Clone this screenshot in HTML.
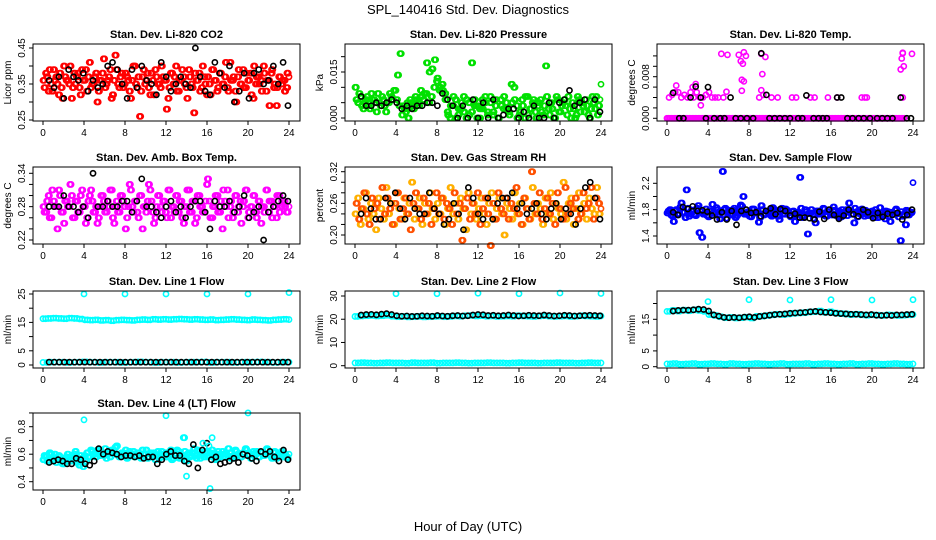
<!DOCTYPE html>
<html><head><meta charset="utf-8"><style>
html,body{margin:0;padding:0;background:#fff;}
svg{display:block;font-family:"Liberation Sans",Arial,sans-serif;}
</style></head><body>
<svg id="chart" width="936" height="540" viewBox="0 0 936 540">
<rect width="936" height="540" fill="#fff"/>
<text x="468" y="14" text-anchor="middle" font-size="13">SPL_140416  Std. Dev. Diagnostics</text>
<text x="468" y="531" text-anchor="middle" font-size="13">Hour of Day (UTC)</text>
</svg>
<script>
const hourTicks=[0,4,8,12,16,20,24];
const co2A=[.36,.38,.33,.35,.39,.37,.32,.34,.40,.36,.35,.31,.38,.37,.34,.39,.36,.33,.41,.35,.37,.30,.36,.38,.34,.36,.39,.32,.43,.35,.37,.34,.38,.36,.31,.40,.35,.37,.33,.39,.36,.34,.38,.32,.37,.35,.40,.36,.28,.34,.38,.37,.33,.36,.39,.35,.31,.37,.34,.38,.36,.33,.40,.35,.37,.32,.39,.36,.34,.38,.35,.41,.33,.36,.37,.30,.39,.35,.34,.38,.36,.32,.40,.37,.35,.33,.38,.36,.29,.39,.35,.34,.37,.36,.33,.38];
const co2B=[.34,.37,.39,.33,.36,.35,.38,.31,.37,.36,.40,.34,.35,.38,.32,.36,.39,.37,.34,.35,.38,.33,.36,.42,.35,.37,.31,.36,.39,.34,.38,.35,.37,.33,.36,.40,.34,.26,.37,.35,.38,.32,.36,.39,.35,.34,.37,.36,.31,.38,.35,.40,.33,.36,.37,.34,.39,.35,.27,.36,.38,.34,.37,.32,.35,.39,.36,.33,.38,.35,.37,.34,.41,.36,.33,.37,.35,.39,.34,.36,.38,.31,.35,.37,.36,.40,.33,.36,.38,.34,.29,.37,.35,.36,.34,.37];
const co2K=[.36,.34,.37,.31,.39,.37,.36,.38,.33,.36,.34,.35,.40,.41,.39,.35,.31,.39,.34,.40,.36,.35,.32,.41,.37,.33,.35,.37,.35,.34,.45,.37,.33,.32,.41,.38,.34,.40,.30,.33,.38,.31,.38,.39,.35,.36,.40,.35,.41,.29];
const presA=[.006,.008,.004,.005,.007,.003,.006,.005,.008,.004,.006,.002,.005,.007,.009,.006,.004,.001,.003,.005,.006,.004,.007,.005,.009,.006,.008,.005,.007,.010,.012,.009,.011,.008,.002,.000,.004,.006,.001,.003,.007,.000,.005,.002,.006,.004,.000,.003,.007,.001,.005,.002,.006,.000,.004,.007,.003,.001,.005,.006,.000,.002,.004,.007,.001,.003,.006,.000,.005,.002,.004,.007,.001,.003,.000,.006,.002,.005,.004,.007,.000,.003,.001,.006,.005,.002,.004,.000,.007,.003,.001,.006];
const presB=[.010,.005,.007,.003,.006,.004,.008,.006,.002,.005,.007,.004,.005,.008,.006,.009,.014,.021,.004,.002,.000,.005,.003,.006,.004,.007,.008,.018,.015,.016,.019,.013,.010,.009,.006,.001,.004,.007,.000,.003,.005,.002,.006,.001,.018,.004,.000,.003,.006,.005,.002,.007,.001,.004,.000,.006,.003,.005,.002,.011,.010,.004,.001,.006,.000,.007,.003,.005,.002,.004,.006,.001,.017,.003,.005,.000,.007,.002,.004,.006,.001,.003,.005,.000,.007,.002,.004,.006,.001,.003,.005,.007,.004,.011];
const presK=[.007,.004,.004,.005,.004,.005,.006,.005,.003,.004,.003,.004,.004,.005,.005,.004,.008,.006,.004,.000,.004,.000,.006,.000,.005,.000,.006,.000,.001,.003,.003,.000,.002,.000,.004,.000,.000,.005,.000,.005,.006,.009,.004,.005,.006,.000,.006,.002];
const tempZero=[0,0,0,0,0,0,0,0,0,0,0,0,0,0,0,0,0,0,0,0,0,0,0,0,0,0,0,0,0,0,0,0,0,0,0,0,0,0,0,0,0,0,0,0,0,0,0,0,0,0,0,0,0,0,0,0,0,0,0,0,0,0,0,0,0,0,0,0,0,0,0,0,0,0,0,0,0,0,0,0];
const tempMidHrs=[0.2,0.5,0.8,1.1,1.4,1.7,2.0,2.3,2.6,2.9,3.2,3.5,3.8,4.1,4.4,4.7,5.0,5.5,9.0,9.4,10.2,10.8,12.2,12.6,14.0,14.4,15.7,16.6,19.0,19.3,19.5,23.0];
const tempMidVals=[.004,.0045,.005,.005,.004,.0045,.004,.005,.004,.005,.004,.004,.0045,.005,.004,.004,.004,.004,.004,.0045,.004,.004,.004,.004,.004,.004,.004,.004,.004,.004,.004,.004];
const tempOutHrs=[5.3,5.9,7.0,7.2,7.4,7.5,7.7,7.3,7.5,7.3,9.3,9.6,9.2,22.8,22.9,23.0,23.1,23.9,23.0,0.9,2.5,3.3,2.8,5.8,9.2];
const tempOutVals=[.0124,.0122,.0122,.011,.0105,.0127,.012,.0074,.0071,.0053,.0085,.0118,.0124,.0094,.0115,.0125,.010,.0124,.0126,.0063,.006,.0025,.0066,.0051,.0054];
const tempKHrs=[1.2,1.6,3.8,4.6,5.2,5.6,6.7,7.2,7.8,8.4,10.0,10.5,11.0,11.5,12.0,12.8,13.2,14.3,14.8,15.2,15.6,17.6,18.1,18.7,19.2,19.8,20.5,21.0,21.5,22.0,23.4,23.8,0.6,2.8,2.3,3.3,4.0,6.2,9.2,9.7,13.6,16.6,17.0,22.8];
const tempKVals=[0,0,0,0,0,0,0,0,0,0,0,0,0,0,0,0,0,0,0,0,0,0,0,0,0,0,0,0,0,0,0,0,.0049,.0061,.004,.004,.006,.004,.0125,.0045,.0044,.004,.004,.004];
const ambA=[.28,.27,.30,.26,.29,.28,.31,.27,.25,.29,.28,.30,.26,.29,.27,.31,.28,.26,.30,.29,.27,.25,.28,.30,.27,.29,.31,.26,.28,.27,.30,.29,.24,.28,.31,.27,.29,.26,.30,.28,.27,.32,.29,.25,.28,.30,.27,.29,.26,.31,.28,.27,.30,.29,.26,.28,.31,.27,.29,.25,.30,.28,.27,.29,.33,.26,.28,.30,.27,.29,.31,.28,.26,.29,.27,.30,.28,.25,.29,.31,.27,.28,.30,.26,.29,.28,.27,.31,.29,.26,.28,.30,.27,.29,.28,.27];
const ambB=[.27,.29,.26,.31,.28,.24,.30,.27,.29,.28,.32,.26,.29,.27,.30,.28,.25,.29,.31,.27,.28,.26,.30,.29,.27,.28,.31,.25,.29,.27,.30,.28,.26,.32,.28,.29,.27,.30,.24,.28,.29,.31,.27,.26,.30,.28,.29,.27,.31,.26,.28,.30,.27,.29,.25,.28,.31,.27,.29,.26,.30,.28,.27,.32,.29,.26,.28,.30,.27,.24,.29,.31,.28,.26,.30,.27,.29,.28,.31,.26,.28,.30,.27,.29,.25,.28,.31,.27,.29,.28,.26,.30,.28,.29,.27,.28];
const ambK=[.28,.28,.28,.30,.28,.28,.27,.28,.26,.34,.28,.28,.29,.28,.28,.29,.29,.27,.29,.33,.28,.28,.27,.26,.28,.29,.27,.28,.26,.28,.29,.29,.27,.24,.29,.28,.28,.29,.27,.28,.30,.26,.27,.28,.22,.27,.28,.29,.30,.29];
const rhA=[.24,.27,.22,.25,.28,.23,.26,.24,.21,.27,.25,.23,.29,.24,.26,.22,.28,.25,.23,.27,.24,.26,.30,.23,.25,.27,.22,.26,.24,.28,.25,.23,.26,.24,.27,.22,.25,.29,.24,.26,.23,.27,.25,.21,.28,.24,.26,.23,.25,.27,.24,.22,.26,.28,.23,.25,.27,.24,.20,.26,.25,.23,.28,.24,.26,.22,.27,.25,.23,.29,.24,.26,.25,.22,.27,.24,.28,.23,.26,.25,.24,.30,.23,.26,.27,.22,.25,.28,.24,.26,.23,.27,.25,.24,.29,.24];
const rhB=[.26,.23,.25,.28,.24,.22,.27,.25,.26,.23,.29,.24,.27,.25,.22,.26,.28,.23,.25,.27,.24,.21,.26,.28,.25,.23,.27,.24,.26,.22,.25,.28,.24,.27,.23,.26,.25,.22,.28,.24,.26,.19,.25,.27,.23,.26,.24,.28,.22,.25,.27,.24,.18,.26,.23,.28,.25,.24,.27,.23,.26,.25,.29,.24,.22,.27,.25,.23,.32,.26,.24,.28,.23,.25,.27,.24,.26,.22,.28,.25,.23,.29,.24,.26,.25,.27,.23,.24,.28,.25,.26,.29,.23,.27,.26,.25];
const rhK=[.24,.27,.25,.23,.23,.27,.26,.28,.25,.23,.27,.25,.24,.24,.28,.25,.24,.22,.23,.26,.24,.21,.29,.27,.24,.23,.27,.23,.26,.27,.27,.28,.25,.26,.24,.25,.26,.24,.23,.25,.26,.23,.25,.24,.22,.25,.29,.30,.27,.23];
const sfA=[1.75,1.80,1.70,1.78,1.72,1.84,1.76,1.68,1.82,1.74,1.79,1.71,1.86,1.77,1.73,1.81,1.69,1.78,1.75,1.83,1.72,1.76,1.80,1.67,1.79,1.74,1.82,1.71,1.77,1.85,1.73,1.76,1.70,1.81,1.75,1.78,1.68,1.80,1.74,1.77,1.72,1.83,1.76,1.70,1.79,1.73,1.81,1.75,1.69,1.78,1.72,1.76,1.82,1.71,1.77,1.74,1.80,1.66,1.78,1.73,1.75,1.81,1.70,1.77,1.72,1.79,1.74,1.68,1.80,1.75,1.71,1.78,1.73,1.82,1.69,1.76,1.74,1.79,1.71,1.77,1.73,1.80,1.68,1.75,1.72,1.78,1.70,1.76,1.74,1.81,1.69,1.77,1.73,1.79,1.72,1.76];
const sfB=[1.78,1.72,1.62,1.80,1.74,1.90,1.76,2.10,1.70,1.79,1.73,1.82,1.45,1.38,1.75,1.71,1.78,1.88,1.74,1.80,1.66,2.38,1.82,1.76,1.72,1.79,1.68,1.74,1.87,2.00,1.73,1.77,1.69,1.81,1.75,1.61,1.86,1.72,1.78,1.74,1.70,1.80,1.76,1.65,1.82,1.73,1.79,1.71,1.77,1.62,1.74,2.29,1.68,1.80,1.43,1.75,1.72,1.60,1.78,1.73,1.82,1.70,1.77,1.74,1.84,1.71,1.78,1.69,1.76,1.80,1.90,1.73,1.60,1.77,1.74,1.81,1.70,1.76,1.72,1.78,1.68,1.75,1.83,1.71,1.66,1.77,1.62,1.73,1.79,1.74,1.33,1.70,1.57,1.78,1.75,2.21];
const sfK=[1.76,1.72,1.84,1.81,1.85,1.78,1.79,1.77,1.71,1.65,1.76,1.65,1.78,1.57,1.78,1.80,1.75,1.76,1.70,1.78,1.82,1.73,1.81,1.78,1.71,1.74,1.68,1.68,1.67,1.65,1.77,1.66,1.80,1.72,1.66,1.71,1.80,1.73,1.70,1.80,1.76,1.67,1.75,1.69,1.74,1.72,1.75,1.65,1.72,1.80];
const l1Band=[16.3,16.4,16.5,16.4,16.3,16.5,16.4,16.2,15.9,15.8,15.9,15.7,15.8,15.6,15.8,15.9,15.8,15.7,15.9,16.0,15.9,16.1,16.0,16.1,16.0,16.1,16.2,16.1,16.0,16.1,16.0,15.9,16.0,15.8,15.9,16.0,16.1,16.0,15.9,15.8,16.0,15.9,15.8,15.7,15.9,16.0,16.1,16.0];
const l1Low=[0.9,1.0,1.0,0.9,1.0,1.1,1.0,0.9,1.0,1.0,0.9,1.0,1.1,1.0,0.9,1.0,1.0,0.9,1.0,1.0,1.1,0.9,1.0,1.0,0.9,1.0,1.0,1.1,1.0,0.9,1.0,1.0];
const l1K=[1.0,1.0,1.0,1.0,1.0,1.0,1.0,1.0,1.0,1.0,1.0,1.0,1.0,1.0,1.0,1.0,1.0,1.0,1.0,1.0,1.0,1.0,1.0,1.0,1.0,1.0,1.0,1.0,1.0,1.0,1.0,1.0,1.0,1.0,1.0,1.0,1.0,1.0,1.0,1.0,1.0,1.0,1.0,1.0,1.0,1.0,1.0,1.0];
const outHrs=[4,8,12,16,20,24];
const l1Out=[25,25,25,25,25,25.5];
const l2Band=[21.2,21.4,21.5,21.6,21.4,21.5,21.7,21.3,21.1,21.2,21.0,21.1,21.2,21.0,21.1,21.2,21.3,21.1,21.2,21.4,21.3,21.5,21.6,21.4,21.5,21.3,21.4,21.2,21.3,21.4,21.3,21.5,21.4,21.3,21.2,21.4,21.5,21.3,21.2,21.3,21.4,21.2,21.3,21.5,21.4,21.3,21.2,21.4];
const l2Low=[1.2,1.3,1.2,1.1,1.2,1.3,1.2,1.2,1.1,1.3,1.2,1.2,1.3,1.1,1.2,1.2,1.3,1.2,1.1,1.2,1.2,1.3,1.2,1.2,1.1,1.2,1.3,1.2,1.2,1.1,1.2,1.2,1.3,1.2,1.2,1.1,1.2,1.3,1.2,1.2];
const l2K=[21.8,22.0,22.1,21.9,22.2,22.4,22.0,21.5,21.3,21.4,21.2,21.3,21.5,21.4,21.3,21.6,21.4,21.3,21.5,21.6,21.4,21.5,21.8,22.0,21.9,21.6,21.7,21.5,21.6,21.8,21.6,21.4,21.5,21.7,21.6,21.5,21.8,21.6,21.4,21.5,21.7,21.6,21.4,21.5,21.6,21.7,21.6,21.5];
const l2Out=[31,31,31.2,31,31.3,31.1];
const l3Band=[17.5,17.8,17.6,17.9,17.7,18.0,17.8,17.5,16.5,16.2,15.8,15.5,15.6,15.4,15.5,15.7,15.4,15.9,16.0,16.2,16.4,16.6,16.5,16.7,16.9,17.0,17.1,17.3,17.4,17.6,17.2,17.4,17.0,16.8,16.7,16.5,16.6,16.4,16.3,16.4,16.3,16.2,16.4,16.3,16.2,16.3,16.4,16.5];
const l3Low=[0.9,1.0,0.8,0.9,1.0,0.8,0.9,1.0,0.9,0.8,1.0,0.9,0.8,0.9,1.0,0.9,0.8,0.9,1.0,0.8,0.9,0.9,1.0,0.8,0.9,1.0,0.9,0.8,0.9,1.0,0.8,0.9,1.0,0.9,0.8,0.9,1.0,0.9,0.8,0.9];
const l3K=[17.6,17.8,17.9,17.9,18.0,18.2,18.1,17.6,16.4,16.0,15.6,15.5,15.6,15.5,15.7,15.8,15.6,15.9,16.1,16.3,16.5,16.6,16.7,16.9,17.0,17.1,17.2,17.4,17.5,17.3,17.2,17.1,16.9,16.8,16.7,16.6,16.6,16.5,16.4,16.5,16.3,16.2,16.3,16.2,16.4,16.4,16.5,16.6];
const l3Out=[20.6,21.2,21.1,21.2,21.1,21.2];
const l4A=[.56,.58,.55,.60,.57,.54,.59,.56,.53,.58,.57,.55,.60,.54,.52,.57,.59,.61,.58,.62,.60,.63,.59,.61,.64,.60,.58,.62,.65,.60,.59,.61,.63,.58,.60,.62,.59,.61,.57,.60,.63,.58,.60,.61,.59,.57,.62,.60,.58,.61,.56,.60,.63,.57,.59,.62,.60,.58,.61,.59,.63,.57,.60,.62,.58,.61,.59,.56,.62,.60,.58,.61,.64,.57,.59,.62,.60,.58,.61,.63,.59,.57,.60,.62,.58,.61,.59,.64,.60,.57,.62,.59,.61,.58,.60,.57];
const l4B=[.59,.55,.61,.57,.60,.56,.58,.53,.57,.60,.55,.58,.62,.56,.59,.51,.55,.58,.63,.60,.58,.62,.61,.59,.57,.61,.63,.60,.66,.58,.61,.60,.57,.62,.60,.58,.61,.59,.63,.60,.57,.61,.59,.56,.62,.60,.58,.61,.59,.63,.57,.60,.62,.58,.72,.55,.61,.59,.64,.57,.62,.60,.58,.61,.59,.63,.57,.60,.58,.62,.60,.59,.61,.57,.63,.60,.58,.61,.64,.59,.57,.62,.60,.58,.61,.59,.63,.60,.58,.61,.57,.60,.62,.59,.58,.60];
const l4K=[.54,.55,.56,.55,.53,.53,.57,.56,.53,.52,.55,.64,.60,.62,.61,.60,.58,.59,.59,.58,.59,.57,.58,.58,.53,.56,.60,.62,.59,.59,.55,.53,.67,.50,.63,.68,.56,.58,.53,.54,.55,.57,.54,.60,.59,.57,.55,.62,.60,.62,.58,.55,.63,.56];
const l4OutHrs=[4,12,13.8,14.0,16.3,16.5,20,15.6,16.2];
const l4Out=[.85,.88,.72,.44,.35,.72,.90,.68,.66];

const NS='http://www.w3.org/2000/svg';
const svg=document.getElementById('chart');
const colLeft=[33,345,657], rowTop=[44,167,291,413], PW=267, PH=77;
function mk(tag,attrs,parent){const e=document.createElementNS(NS,tag);for(const k in attrs)e.setAttribute(k,attrs[k]);(parent||svg).appendChild(e);return e;}

function panel(cfg){
  const L=colLeft[cfg.col], T=rowTop[cfg.row];
  const g=mk('g',{});
  
  
  const xs=h=>L+10+h*246/24;
  const ys=v=>T+cfg.p1+(v-cfg.v1)*(cfg.p2-cfg.p1)/(cfg.v2-cfg.v1);
  const t=mk('text',{x:L+PW/2,y:T-6,'text-anchor':'middle','font-size':11,'font-weight':'bold'},g);
  t.textContent=cfg.title;
  
  
  const yl=mk('text',{x:0,y:0,'text-anchor':'middle','font-size':10,transform:`translate(${L-22},${T+PH/2}) rotate(-90)`},g);
  yl.textContent=cfg.ylab;
  
  
  cfg.series.forEach(s=>{
    const n=s.vals.length;
    const offs=s.dup?[0,0.5]:[0];
    offs.forEach(o=>{
      s.vals.forEach((v,i)=>{
        const step=s.hrs?0:(s.h1-s.h0)/(n-1);
        const h=s.hrs?s.hrs[i]:(s.h0+step*(i+o));
        if(h>24)return;
        const c=mk('circle',{cx:xs(h),cy:ys(v),r:2.6,fill:'none',stroke:s.color,'stroke-width':1.6},g);
        
        
      });
    });
  });
  const box=mk('rect',{x:L,y:T,width:PW,height:PH,fill:'none',stroke:'#000','stroke-width':1},g);
  
  
  hourTicks.forEach(h=>{
    mk('line',{x1:xs(h),x2:xs(h),y1:T+PH,y2:T+PH+4,stroke:'#000'},g);
    const tl=mk('text',{x:xs(h),y:T+PH+15,'text-anchor':'middle','font-size':10},g);
    tl.textContent=h;
    
    
  });
  cfg.ticks.forEach(v=>{
    mk('line',{x1:L-4,x2:L,y1:ys(v),y2:ys(v),stroke:'#000'},g);
  });
  cfg.labels.forEach((lab,i)=>{
    const v=cfg.labelVals[i];
    const tl=mk('text',{x:0,y:0,'text-anchor':'middle','font-size':10,transform:`translate(${L-8},${ys(v)}) rotate(-90)`},g);
    tl.textContent=lab;
    
    
  });
}

panel({name:'panel-co2',col:0,row:0,title:'Stan. Dev. Li-820 CO2',ylab:'Licor ppm',v1:.45,p1:4,v2:.25,p2:76,
  ticks:[.25,.30,.35,.40,.45],labelVals:[.25,.35,.45],labels:['0.25','0.35','0.45'],
  series:[{vals:co2A,color:'#ff0000',h0:0,h1:23.8,dup:true},{vals:co2B,color:'#ff0000',h0:0.1,h1:24,dup:true},{vals:co2K,color:'#000',h0:0.6,h1:23.9}]});
panel({name:'panel-pressure',col:1,row:0,title:'Stan. Dev. Li-820 Pressure',ylab:'kPa',v1:0,p1:74,v2:.015,p2:28,
  ticks:[0,.005,.010,.015,.020],labelVals:[0,.015],labels:['0.000','0.015'],
  series:[{vals:presA,color:'#00e000',h0:0.1,h1:23.9,dup:true},{vals:presB,color:'#00e000',h0:0,h1:24,dup:true},{vals:presK,color:'#000',h0:0.6,h1:23.9}]});
panel({name:'panel-temp',col:2,row:0,title:'Stan. Dev. Li-820 Temp.',ylab:'degrees C',v1:0,p1:74.3,v2:.008,p2:32.7,
  ticks:[0,.002,.004,.006,.008,.010,.012],labelVals:[0,.008],labels:['0.000','0.008'],
  series:[{vals:tempZero,color:'#ff00ff',h0:0,h1:23,dup:true},{hrs:tempMidHrs,vals:tempMidVals,color:'#ff00ff'},{hrs:tempOutHrs,vals:tempOutVals,color:'#ff00ff'},{hrs:tempKHrs,vals:tempKVals,color:'#000'}]});
panel({name:'panel-amb-box-temp',col:0,row:1,title:'Stan. Dev. Amb. Box Temp.',ylab:'degrees C',v1:.34,p1:6.3,v2:.22,p2:73,
  ticks:[.22,.24,.26,.28,.30,.32,.34],labelVals:[.22,.28,.34],labels:['0.22','0.28','0.34'],
  series:[{vals:ambA,color:'#ff00ff',h0:0,h1:23.8,dup:true},{vals:ambB,color:'#ff00ff',h0:0.1,h1:24,dup:true},{vals:ambK,color:'#000',h0:0.6,h1:23.9}]});
panel({name:'panel-gas-rh',col:1,row:1,title:'Stan. Dev. Gas Stream RH',ylab:'percent',v1:.32,p1:4.7,v2:.20,p2:68,
  ticks:[.20,.22,.24,.26,.28,.30,.32],labelVals:[.20,.26,.32],labels:['0.20','0.26','0.32'],
  series:[{vals:rhA,color:'#ffb000',h0:0,h1:23.8,dup:true},{vals:rhB,color:'#ff5000',h0:0.1,h1:24,dup:true},{vals:rhK,color:'#000',h0:0.6,h1:23.9}]});
panel({name:'panel-sample-flow',col:2,row:1,title:'Stan. Dev. Sample Flow',ylab:'ml/min',v1:2.2,p1:16.3,v2:1.4,p2:69,
  ticks:[1.4,1.6,1.8,2.0,2.2],labelVals:[1.4,1.8,2.2],labels:['1.4','1.8','2.2'],
  series:[{vals:sfA,color:'#0000ff',h0:0,h1:23.8,dup:true},{vals:sfB,color:'#0000ff',h0:0.1,h1:24,dup:true},{vals:sfK,color:'#000',h0:0.6,h1:23.9}]});
panel({name:'panel-line1-flow',col:0,row:2,title:'Stan. Dev. Line 1 Flow',ylab:'ml/min',v1:25,p1:3,v2:0,p2:74,
  ticks:[0,5,10,15,20,25],labelVals:[0,5,15,25],labels:['0','5','15','25'],
  series:[{vals:l1Band,color:'#00ffff',h0:0,h1:24,dup:true},{vals:l1Low,color:'#00ffff',h0:0,h1:24,dup:true},{vals:l1K,color:'#000',h0:0.6,h1:23.9},{hrs:outHrs,vals:l1Out,color:'#00ffff'}]});
panel({name:'panel-line2-flow',col:1,row:2,title:'Stan. Dev. Line 2 Flow',ylab:'ml/min',v1:30,p1:5,v2:0,p2:74.7,
  ticks:[0,10,20,30],labelVals:[0,10,20,30],labels:['0','10','20','30'],
  series:[{vals:l2Band,color:'#00ffff',h0:0,h1:24,dup:true},{vals:l2Low,color:'#00ffff',h0:0,h1:24,dup:true},{vals:l2K,color:'#000',h0:0.6,h1:23.9},{hrs:outHrs,vals:l2Out,color:'#00ffff'}]});
panel({name:'panel-line3-flow',col:2,row:2,title:'Stan. Dev. Line 3 Flow',ylab:'ml/min',v1:15,p1:28.3,v2:0,p2:75.7,
  ticks:[0,5,10,15,20],labelVals:[0,5,15],labels:['0','5','15'],
  series:[{vals:l3Band,color:'#00ffff',h0:0,h1:24,dup:true},{vals:l3Low,color:'#00ffff',h0:0,h1:24,dup:true},{vals:l3K,color:'#000',h0:0.6,h1:23.9},{hrs:outHrs,vals:l3Out,color:'#00ffff'}]});
panel({name:'panel-line4-flow',col:0,row:3,title:'Stan. Dev. Line 4 (LT) Flow',ylab:'ml/min',v1:.8,p1:13.7,v2:.4,p2:68.7,
  ticks:[.4,.5,.6,.7,.8,.9],labelVals:[.4,.6,.8],labels:['0.4','0.6','0.8'],
  series:[{vals:l4A,color:'#00ffff',h0:0,h1:23.8,dup:true},{vals:l4B,color:'#00ffff',h0:0.1,h1:24,dup:true},{vals:l4K,color:'#000',h0:0.6,h1:23.9},{hrs:l4OutHrs,vals:l4Out,color:'#00ffff'}]});
</script>
</body></html>
